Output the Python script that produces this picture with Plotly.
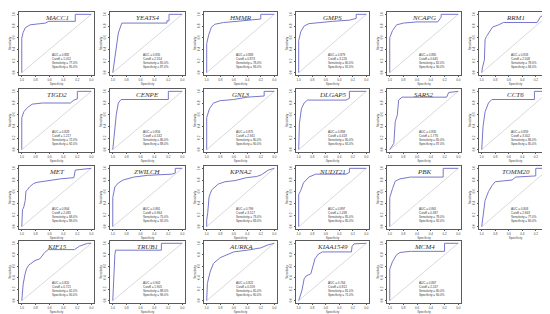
import plotly.graph_objects as go

genes = ["MACC1", "YEATS4", "HMMR", "GMPS", "NCAPG", "RRM1",
         "TIGD2", "CENPE", "GNL3", "DLGAP5", "SARS2", "CCT6",
         "MET", "ZWILCH", "KPNA2", "NUDT21", "PBK", "TOMM20",
         "KIF15", "TRUB1", "AURKA", "KIAA1549", "MCM4"]

MACC1_spec = [1, 1, 0.98, 0.95, 0.88, 0.66, 0.61, 0.23, 0.23, 0]
MACC1_sens = [0, 0.59, 0.69, 0.77, 0.82, 0.85, 0.88, 0.88, 1, 1]
YEATS4_spec = [1, 0.97, 0.94, 0.92, 0.87, 0.22, 0.22, 0.19, 0.19, 0]
YEATS4_sens = [0, 0.24, 0.54, 0.68, 0.85, 0.85, 0.89, 0.89, 1, 1]
HMMR_spec = [1, 1, 0.97, 0.93, 0.88, 0.75, 0.55, 0.3, 0.2, 0.2, 0]
HMMR_sens = [0, 0.5, 0.65, 0.78, 0.83, 0.86, 0.88, 0.9, 0.92, 1, 1]
GMPS_spec = [1, 1, 0.97, 0.92, 0.85, 0.7, 0.5, 0.25, 0.15, 0.15, 0]
GMPS_sens = [0, 0.55, 0.7, 0.8, 0.84, 0.86, 0.88, 0.9, 0.93, 1, 1]
NCAPG_spec = [1, 1, 0.96, 0.9, 0.8, 0.6, 0.3, 0.25, 0.25, 0]
NCAPG_sens = [0, 0.6, 0.72, 0.82, 0.85, 0.87, 0.87, 0.95, 1, 1]
RRM1_spec = [1, 0.99, 0.96, 0.95, 0.93, 0.89, 0.84, 0.75, 0.68, 0.18, 0.17, 0.13, 0.06, 0]
RRM1_sens = [0, 0.08, 0.22, 0.57, 0.62, 0.70, 0.78, 0.82, 0.86, 0.86, 0.88, 0.96, 0.99, 1]
TIGD2_spec = [1, 1, 0.97, 0.92, 0.85, 0.7, 0.3, 0.25, 0.2, 0.2, 0]
TIGD2_sens = [0, 0.55, 0.65, 0.72, 0.78, 0.8, 0.8, 0.85, 0.87, 1, 1]
CENPE_spec = [1, 0.98, 0.95, 0.92, 0.88, 0.2, 0.2, 0]
CENPE_sens = [0, 0.3, 0.6, 0.8, 0.86, 0.86, 1, 1]
GNL3_spec = [1, 1, 0.96, 0.9, 0.8, 0.6, 0.4, 0.15, 0.15, 0]
GNL3_sens = [0, 0.55, 0.7, 0.8, 0.84, 0.86, 0.9, 0.92, 1, 1]
DLGAP5_spec = [1, 0.99, 0.96, 0.92, 0.87, 0.3, 0.25, 0.25, 0]
DLGAP5_sens = [0, 0.45, 0.7, 0.8, 0.85, 0.85, 0.88, 1, 1]
SARS2_spec = [1, 0.94, 0.92, 0.89, 0.87, 0.82, 0.17, 0.14, 0]
SARS2_sens = [0, 0.11, 0.48, 0.59, 0.85, 0.9, 0.9, 0.98, 1]
CCT6_spec = [1, 0.98, 0.95, 0.9, 0.85, 0.22, 0.22, 0]
CCT6_sens = [0, 0.4, 0.65, 0.8, 0.86, 0.86, 1, 1]
MET_spec = [1, 0.99, 0.97, 0.95, 0.94, 0.92, 0.89, 0.83, 0.78, 0.62, 0.44, 0.25, 0.23, 0]
MET_sens = [0, 0.29, 0.34, 0.45, 0.61, 0.63, 0.68, 0.74, 0.76, 0.79, 0.82, 0.84, 0.97, 1]
ZWILCH_spec = [1, 1, 0.97, 0.92, 0.85, 0.7, 0.5, 0.15, 0.1, 0.1, 0]
ZWILCH_sens = [0, 0.5, 0.68, 0.75, 0.8, 0.85, 0.88, 0.9, 0.92, 1, 1]
KPNA2_spec = [1, 1, 0.985, 0.975, 0.965, 0.946, 0.926, 0.83, 0.73, 0.58, 0.41, 0.26, 0.19, 0.09, 0]
KPNA2_sens = [0, 0.11, 0.24, 0.4, 0.51, 0.57, 0.63, 0.73, 0.77, 0.79, 0.84, 0.86, 0.89, 0.97, 1]
NUDT21_spec = [1, 1, 0.97, 0.93, 0.85, 0.75, 0.3, 0.25, 0.25, 0]
NUDT21_sens = [0, 0.55, 0.62, 0.75, 0.85, 0.9, 0.9, 0.93, 1, 1]
PBK_spec = [1, 1, 0.96, 0.92, 0.85, 0.7, 0.22, 0.22, 0]
PBK_sens = [0, 0.5, 0.65, 0.78, 0.82, 0.85, 0.85, 1, 1]
TOMM20_spec = [1, 0.97, 0.95, 0.9, 0.85, 0.8, 0.55, 0.5, 0.2, 0.2, 0]
TOMM20_sens = [0, 0.3, 0.45, 0.6, 0.7, 0.77, 0.8, 0.85, 0.87, 1, 1]
KIF15_spec = [1, 0.99, 0.98, 0.95, 0.93, 0.90, 0.81, 0.74, 0.67, 0.62, 0.24, 0.17, 0.05, 0]
KIF15_sens = [0, 0.12, 0.29, 0.48, 0.56, 0.62, 0.70, 0.73, 0.84, 0.89, 0.89, 0.95, 1, 1]
TRUB1_spec = [1, 0.99, 0.98, 0.97, 0.96, 0.3, 0.3, 0]
TRUB1_sens = [0, 0.3, 0.6, 0.8, 0.88, 0.88, 1, 1]
AURKA_spec = [1, 0.99, 0.95, 0.9, 0.8, 0.7, 0.6, 0.4, 0.2, 0.1, 0]
AURKA_sens = [0, 0.3, 0.5, 0.65, 0.75, 0.8, 0.85, 0.88, 0.92, 0.97, 1]
KIAA1549_spec = [1, 0.97, 0.95, 0.92, 0.89, 0.82, 0.80, 0.76, 0.71, 0.65, 0.22, 0.21, 0.18, 0]
KIAA1549_sens = [0, 0.11, 0.19, 0.38, 0.43, 0.47, 0.57, 0.73, 0.81, 0.85, 0.85, 0.95, 0.99, 1]
MCM4_spec = [1, 1, 0.96, 0.9, 0.85, 0.7, 0.2, 0.2, 0]
MCM4_sens = [0, 0.55, 0.68, 0.8, 0.84, 0.86, 0.86, 1, 1]

cutoffs = [1.052, 2.314, 0.873, 3.126, 0.645, 2.508,
           1.217, 0.532, 2.941, 0.418, 1.776, 3.302,
           2.085, 0.964, 3.517, 1.438, 0.387, 2.663,
           0.721, 1.905, 0.559, 0.812, 2.247]

tick_vals = [0, 0.2, 0.4, 0.6, 0.8, 1.0]
tick_text = ["0.0", "0.2", "0.4", "0.6", "0.8", "1.0"]

curves = {g: (globals()[g + "_spec"], globals()[g + "_sens"]) for g in genes}

W, H = 550, 314
col_px = [(11, 86), (102, 177), (196, 269), (288, 361), (379, 453), (471, 544)]
row_px = [(4, 67), (81, 144), (158, 221), (233, 295)]

CURVE = "#7777cc"
FRAME = "#5a5a5a"
TXT = "#444444"

fig = go.Figure()
layout = {}
annotations = []

for i, g in enumerate(genes):
    r, c = divmod(i, 6)
    n = "" if i == 0 else str(i + 1)
    xa, ya = "x" + n, "y" + n
    spec, sens = curves[g]
    fig.add_trace(go.Scatter(x=[1, 0], y=[0, 1], mode="lines", xaxis=xa, yaxis=ya,
                             line=dict(color="#cfcfcf", width=0.8), hoverinfo="skip",
                             showlegend=False))
    fig.add_trace(go.Scatter(x=spec, y=sens, mode="lines", xaxis=xa, yaxis=ya,
                             line=dict(color=CURVE, width=1), showlegend=False))
    x0, x1 = col_px[c]
    y0, y1 = row_px[r]
    common = dict(showline=True, mirror=True, linecolor=FRAME, linewidth=0.8,
                  ticks="outside", ticklen=1.5, tickwidth=0.6, tickcolor=FRAME,
                  tickvals=tick_vals, ticktext=tick_text, showgrid=False, zeroline=False,
                  tickfont=dict(size=3, color=TXT, family="Liberation Sans"),
                  fixedrange=True)
    layout["xaxis" + n] = dict(common, domain=[x0 / W, x1 / W], anchor=ya,
                               range=[1.04, -0.04],
                               title=dict(text="Specificity", standoff=0,
                                          font=dict(size=3, color=TXT, family="Liberation Sans")))
    layout["yaxis" + n] = dict(common, domain=[1 - y1 / H, 1 - y0 / H], anchor=xa,
                               range=[-0.04, 1.04], tickangle=-90,
                               title=dict(text="Sensitivity", standoff=1,
                                          font=dict(size=3, color=TXT, family="Liberation Sans")))
    # AUC and best (Youden) point from the curve
    auc = sum((spec[k] - spec[k + 1]) * (sens[k] + sens[k + 1]) / 2 for k in range(len(spec) - 1))
    best = max(range(len(spec)), key=lambda k: spec[k] + sens[k])
    txt = ("AUC = %.3f<br>Cutoff = %.3f<br>Sensitivity = %.1f%%<br>Specificity = %.1f%%"
           % (auc, cutoffs[i], sens[best] * 100, spec[best] * 100))
    annotations.append(dict(xref=xa, yref=ya, x=0.6, y=0.2, text=txt, showarrow=False,
                            xanchor="left", yanchor="middle", align="left",
                            font=dict(size=3, color="#333", family="Liberation Sans")))
    annotations.append(dict(xref=xa, yref=ya, x=0.5, y=0.93, text="<i>" + g + "</i>",
                            showarrow=False, xanchor="center", yanchor="middle",
                            font=dict(size=7, color="#333", family="Liberation Serif")))

fig.update_layout(**layout)
fig.update_layout(width=W, height=H, margin=dict(l=0, r=0, t=0, b=0),
                  paper_bgcolor="white", plot_bgcolor="white",
                  annotations=annotations, showlegend=False)
fig.write_html("out.html")
